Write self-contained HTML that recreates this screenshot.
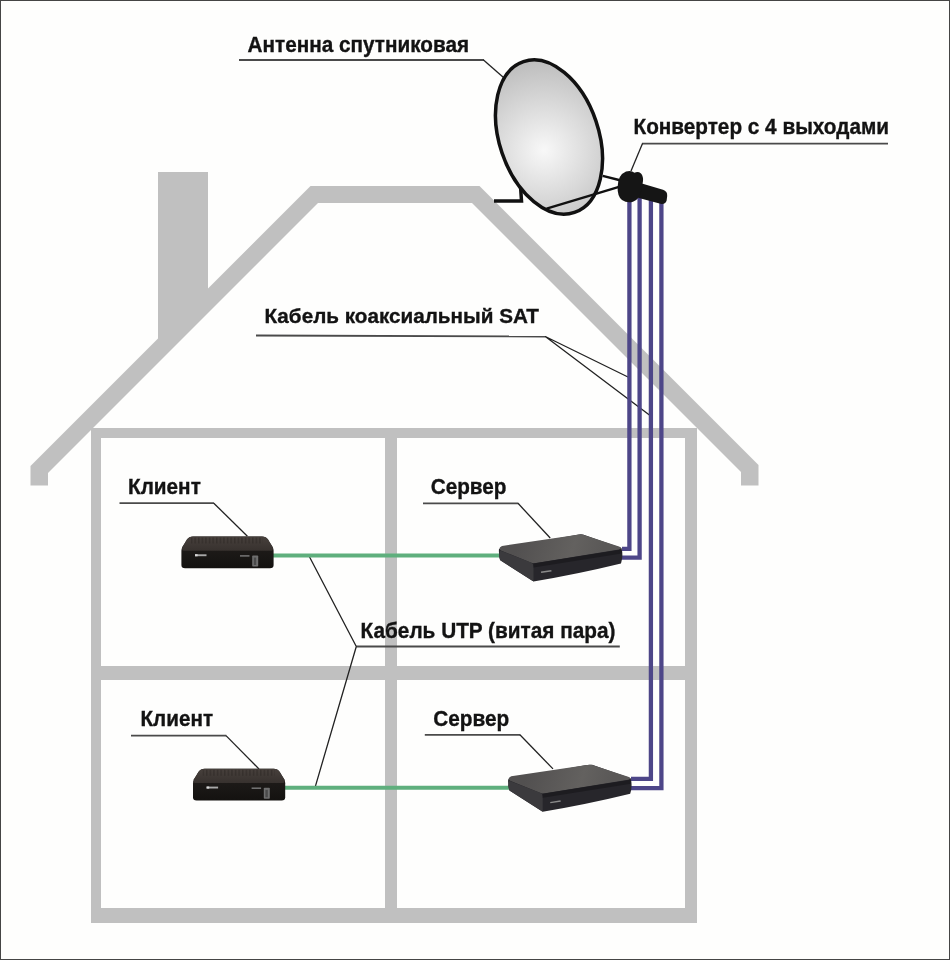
<!DOCTYPE html>
<html><head><meta charset="utf-8">
<style>
html,body{margin:0;padding:0;background:#fefefd;}
svg{display:block;}
text{font-family:"Liberation Sans",sans-serif;font-weight:bold;fill:#131313;stroke:#131313;stroke-width:0.35px;font-size:22px;}
svg{will-change:transform;}
</style></head>
<body>
<svg width="950" height="960" viewBox="0 0 950 960">
<defs>
<radialGradient id="dish" cx="540" cy="148" r="90" gradientUnits="userSpaceOnUse">
<stop offset="0" stop-color="#f8f8f8"/>
<stop offset="1" stop-color="#bdbdbd"/>
</radialGradient>
</defs>
<rect x="0" y="0" width="950" height="960" fill="#fefefd"/>
<!-- house -->
<g fill="#c0c0c0">
<path d="M30.5,485.5 L30.5,466 L158,338.5 L158,172 L208,172 L208,288.5 L310.5,186 L479.5,186 L758.5,465 L758.5,485.5 L741,485.5 L741,472 L472,203 L318,203 L48,473 L48,485.5 Z"/>
<path fill-rule="evenodd" d="M91,428 H697 V923 H91 Z M101,438 V666 H385 V438 Z M397,438 V666 H685 V438 Z M101,680 V908 H385 V680 Z M397,680 V908 H685 V680 Z"/>
</g>
<!-- leader lines -->
<g fill="none" stroke="#4a4a4a" stroke-width="1.8">
<line x1="239" y1="60" x2="484" y2="60"/>
<line x1="642" y1="143.6" x2="888" y2="143.6"/>
<line x1="256" y1="335.5" x2="545.5" y2="336.5"/>
<line x1="119.5" y1="503.2" x2="214" y2="503.2"/>
<line x1="423" y1="503.3" x2="518.3" y2="503.3"/>
<line x1="356.3" y1="646.5" x2="619.8" y2="646.5"/>
<line x1="131" y1="735.6" x2="226.3" y2="735.6"/>
<line x1="424.8" y1="734.8" x2="520.2" y2="734.8"/>
</g>
<g fill="none" stroke="#222" stroke-width="1.3">
<polyline points="483.5,60 503.5,77.5"/>
<polyline points="642.5,143.6 631,171"/>
<polyline points="629,377.5 545.3,336.5 649.4,415"/>
<polyline points="213.8,503.2 247.4,536.3"/>
<polyline points="518,503.3 550.2,538"/>
<polyline points="308.4,554.7 356.3,646.5 315,787.6"/>
<polyline points="226,735.6 259,769"/>
<polyline points="519.9,734.8 553,768.9"/>
</g>
<!-- dish -->
<path d="M494,201 H521.5 L520.5,186" fill="none" stroke="#111" stroke-width="3.5"/>
<ellipse cx="549" cy="137" rx="49.6" ry="79.6" transform="rotate(-18.7 549 137)" fill="url(#dish)" stroke="#111" stroke-width="3.5"/>
<g stroke="#111" stroke-width="2.4" fill="none">
<line x1="602.7" y1="175.8" x2="621" y2="180.5"/>
<line x1="546.6" y1="208.7" x2="619" y2="186.8"/>
</g>
<!-- purple cables -->
<g fill="none" stroke="#4d4688" stroke-width="4.3">
<polyline points="629.4,196 629.4,548.8 622,548.8"/>
<polyline points="639.6,198 639.6,557.7 622,557.7"/>
<polyline points="650.9,200 650.9,778.9 631,778.9"/>
<polyline points="661.4,201 661.4,788.1 631,788.1"/>
</g>
<!-- converter -->
<g fill="#151515">
<path d="M641,183.2 L663,189.8 Q667.5,191.3 667.2,196 L666.6,200.5 Q665.5,204.8 660.5,203.8 L637,197.5 Z"/>
<path d="M617.6,187 Q617.8,175 626,171.6 Q631,169.8 634.5,172.8 Q638,171 641,173.5 Q643.5,176.5 643,181 L641.5,190 Q639.5,199.5 633,201.8 Q627,203.5 622,200 Q617.3,196.5 617.6,187 Z"/>
</g>
<!-- green cables -->
<g stroke="#5faf7d" stroke-width="4">
<line x1="272" y1="555.5" x2="500" y2="555.5"/>
<line x1="284" y1="787.8" x2="509" y2="787.8"/>
</g>
<defs>
<linearGradient id="ctop" x1="0" y1="536" x2="0" y2="551" gradientUnits="userSpaceOnUse">
<stop offset="0" stop-color="#48413d"/><stop offset="1" stop-color="#37312e"/>
</linearGradient>
<linearGradient id="cfront" x1="0" y1="550" x2="0" y2="568" gradientUnits="userSpaceOnUse">
<stop offset="0" stop-color="#1d1a18"/><stop offset="1" stop-color="#141210"/>
</linearGradient>
<pattern id="ribs" x="0" y="0" width="3.6" height="10" patternUnits="userSpaceOnUse">
<rect x="0" y="0" width="1.5" height="10" fill="#2a2522"/>
</pattern>
<linearGradient id="stop" x1="520" y1="536" x2="600" y2="560" gradientUnits="userSpaceOnUse">
<stop offset="0" stop-color="#525050"/><stop offset="0.65" stop-color="#63615f"/><stop offset="1" stop-color="#5a5857"/>
</linearGradient>
<g id="client">
<path d="M193,536.5 L262,536.5 Q266,536.5 268,539.5 L272.6,547 Q273.6,548.8 273.6,551 L273.6,565 Q273.6,568.2 270,568.2 L185,568.2 Q181.4,568.2 181.4,565 L181.4,551 Q181.4,548.8 182.4,547 L187,539.5 Q189,536.5 193,536.5 Z" fill="url(#cfront)"/>
<path d="M193,536.5 L262,536.5 Q266,536.5 268,539.5 L272.6,547 Q273.8,550.8 271,550.8 L184,550.8 Q181.2,550.8 182.4,547 L187,539.5 Q189,536.5 193,536.5 Z" fill="url(#ctop)"/>
<rect x="191" y="537.5" width="72" height="6" fill="url(#ribs)" opacity="0.5"/>
<rect x="195" y="554.3" width="11.5" height="1.9" fill="#a8a8a8"/>
<rect x="195" y="554.2" width="2.6" height="2.1" fill="#d8d8d8"/>
<rect x="240" y="555.2" width="9.5" height="1.4" fill="#7c7c7c"/>
<rect x="252.2" y="555.5" width="6" height="11" rx="0.8" fill="#6e6e6e"/>
<rect x="253.8" y="557.5" width="2.4" height="7.5" fill="#4a4a4a"/>
</g>
<g id="server">
<path d="M499,549 Q498.5,553 500,560 L533.5,581.5 Q578,574 621,563.5 Q623.5,556 621.5,548 L583,534.5 Q580,534 576,535 Z" fill="#27262b"/>
<path d="M502,546 L576,535 Q580,534 583,534.8 L619,546.5 Q623,548 619,549.5 L536,563 Q533,563.5 530,562.2 L501,550.5 Q497.5,548 502,546 Z" fill="url(#stop)"/>
<path d="M500,550.5 L531,562.5 Q533.5,563.5 533.5,566.5 L533.5,581.5 L500.5,560.5 Q499,558 499,555 Z" fill="#3b3a3d"/>
<path d="M533.5,563.5 L621.5,549.5 L621.6,553.5 L533.5,567.5 Z" fill="#1d1c20"/>
<rect x="541" y="570.8" width="10.5" height="1.5" fill="#8a8a8a" transform="rotate(-9 546 571.6)"/>
</g>
</defs>
<use href="#client"/>
<use href="#client" transform="translate(11.6,232.3)"/>
<use href="#server"/>
<use href="#server" transform="translate(9.2,230.3)"/>
<!-- text -->
<text x="247.6" y="52.2" textLength="221.5" lengthAdjust="spacingAndGlyphs">Антенна спутниковая</text>
<text x="633.5" y="133.9" textLength="255.5" lengthAdjust="spacingAndGlyphs">Конвертер с 4 выходами</text>
<text x="264.5" y="322.8" style="font-size:21px" textLength="274.5" lengthAdjust="spacingAndGlyphs">Кабель коаксиальный SAT</text>
<text x="128" y="493.7" textLength="72.8" lengthAdjust="spacingAndGlyphs">Клиент</text>
<text x="430.7" y="493.7" textLength="75.8" lengthAdjust="spacingAndGlyphs">Сервер</text>
<text x="360.5" y="637.6" textLength="255" lengthAdjust="spacingAndGlyphs">Кабель UTP (витая пара)</text>
<text x="140.5" y="726.4" textLength="72.5" lengthAdjust="spacingAndGlyphs">Клиент</text>
<text x="433.2" y="726.3" textLength="76" lengthAdjust="spacingAndGlyphs">Сервер</text>
<!-- border -->
<rect x="0.5" y="0.5" width="949" height="959" fill="none" stroke="#454545" stroke-width="1"/>
</svg>
</body></html>
